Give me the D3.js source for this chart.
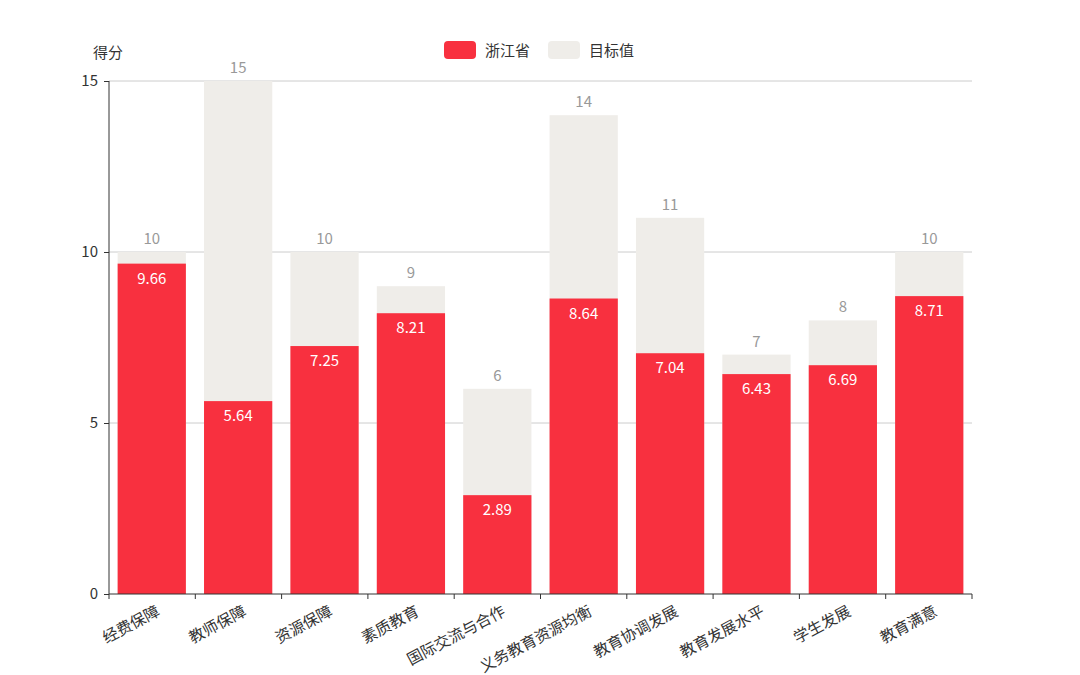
<!DOCTYPE html>
<html>
<head>
<meta charset="utf-8">
<script src="https://cdn.jsdelivr.net/npm/d3@7"></script>
<style>
  body { margin: 0; background: #fff; }
  text { font-family: "Noto Sans CJK SC", "Noto Sans", sans-serif; }
</style>
</head>
<body>
<div id="chart"></div>
<script>
var categories = ["经费保障", "教师保障", "资源保障", "素质教育", "国际交流与合作", "义务教育资源均衡", "教育协调发展", "教育发展水平", "学生发展", "教育满意"];
var scores = [9.66, 5.64, 7.25, 8.21, 2.89, 8.64, 7.04, 6.43, 6.69, 8.71];
var targets = [10, 15, 10, 9, 6, 14, 11, 7, 8, 10];
var yTicks = [0, 5, 10, 15];
var seriesNames = ["浙江省", "目标值"];

function main() {
    var width = 1080, height = 675;
    var red = "#f8303f", light = "#efede9";
    var left = 109, right = 972, top = 81, bottom = 594;

    var svg = d3.select("#chart").append("svg")
                .attr("width", width).attr("height", height);

    var x = d3.scaleBand().domain(categories).range([left, right])
              .paddingInner(0.21).paddingOuter(0.1);
    var y = d3.scaleLinear().domain([0, 15]).range([bottom, top]);

    // grid lines
    svg.append("g").selectAll("line").data(yTicks.filter(function(d){ return d > 0; }))
       .enter().append("line")
       .attr("x1", left).attr("x2", right)
       .attr("y1", function(d){ return y(d); }).attr("y2", function(d){ return y(d); })
       .attr("stroke", "#cccccc").attr("stroke-width", 1);

    // target bars (behind)
    svg.append("g").selectAll("rect").data(targets).enter().append("rect")
       .attr("x", function(d, i){ return x(categories[i]); })
       .attr("width", x.bandwidth())
       .attr("y", function(d){ return y(d); })
       .attr("height", function(d){ return y(0) - y(d); })
       .attr("fill", light);

    svg.append("g").selectAll("text").data(targets).enter().append("text")
       .attr("x", function(d, i){ return x(categories[i]) + x.bandwidth() / 2; })
       .attr("y", function(d){ return y(d) - 8; })
       .attr("text-anchor", "middle")
       .attr("font-size", 15).attr("fill", "#999")
       .text(function(d){ return d; });

    // score bars (front)
    svg.append("g").selectAll("rect").data(scores).enter().append("rect")
       .attr("x", function(d, i){ return x(categories[i]); })
       .attr("width", x.bandwidth())
       .attr("y", function(d){ return y(d); })
       .attr("height", function(d){ return y(0) - y(d); })
       .attr("fill", red);

    svg.append("g").selectAll("text").data(scores).enter().append("text")
       .attr("x", function(d, i){ return x(categories[i]) + x.bandwidth() / 2; })
       .attr("y", function(d){ return y(d) + 20; })
       .attr("text-anchor", "middle")
       .attr("font-size", 15).attr("fill", "#fff")
       .text(function(d){ return d.toFixed(2); });

    // y axis
    var yAxis = svg.append("g").attr("transform", "translate(" + left + ",0)")
       .call(d3.axisLeft(y).tickValues(yTicks).tickSize(5).tickPadding(6));
    yAxis.selectAll("text").attr("font-size", 15).attr("fill", "#333")
         .style("font-family", "'Noto Sans CJK SC', sans-serif");
    yAxis.selectAll("line,path").attr("stroke", "#333");
    yAxis.select("path").attr("d", "M0," + bottom + "V" + top);

    // x axis with ticks on category boundaries
    var xa = svg.append("g").attr("transform", "translate(0," + bottom + ")");
    xa.append("line").attr("x1", left).attr("x2", right).attr("stroke", "#333");
    var step = (right - left) / categories.length;
    xa.selectAll("line.tick").data(d3.range(categories.length + 1)).enter().append("line")
      .attr("class", "tick")
      .attr("x1", function(i){ return left + i * step; })
      .attr("x2", function(i){ return left + i * step; })
      .attr("y1", 0).attr("y2", 5).attr("stroke", "#333");
    xa.selectAll("text").data(categories).enter().append("text")
      .attr("transform", function(d){
          return "translate(" + (x(d) + x.bandwidth() / 2 + 3) + ",9) rotate(-28)";
      })
      .attr("text-anchor", "end").attr("dy", "0.85em")
      .attr("font-size", 15.5).attr("fill", "#333")
      .text(function(d){ return d; });

    // axis name
    svg.append("text").attr("x", 93).attr("y", 58)
       .attr("font-size", 15).attr("fill", "#333").text("得分");

    // legend
    var legendColors = [red, light];
    var legendX = [444, 548];
    var lg = svg.append("g").selectAll("g").data(seriesNames).enter().append("g")
       .attr("transform", function(d, i){ return "translate(" + legendX[i] + ",41)"; });
    lg.append("rect").attr("width", 32).attr("height", 18).attr("rx", 4)
      .attr("fill", function(d, i){ return legendColors[i]; });
    lg.append("text").attr("x", 41).attr("y", 15)
      .attr("font-size", 15).attr("fill", "#333")
      .text(function(d){ return d; });
}
main();
</script>
</body>
</html>
